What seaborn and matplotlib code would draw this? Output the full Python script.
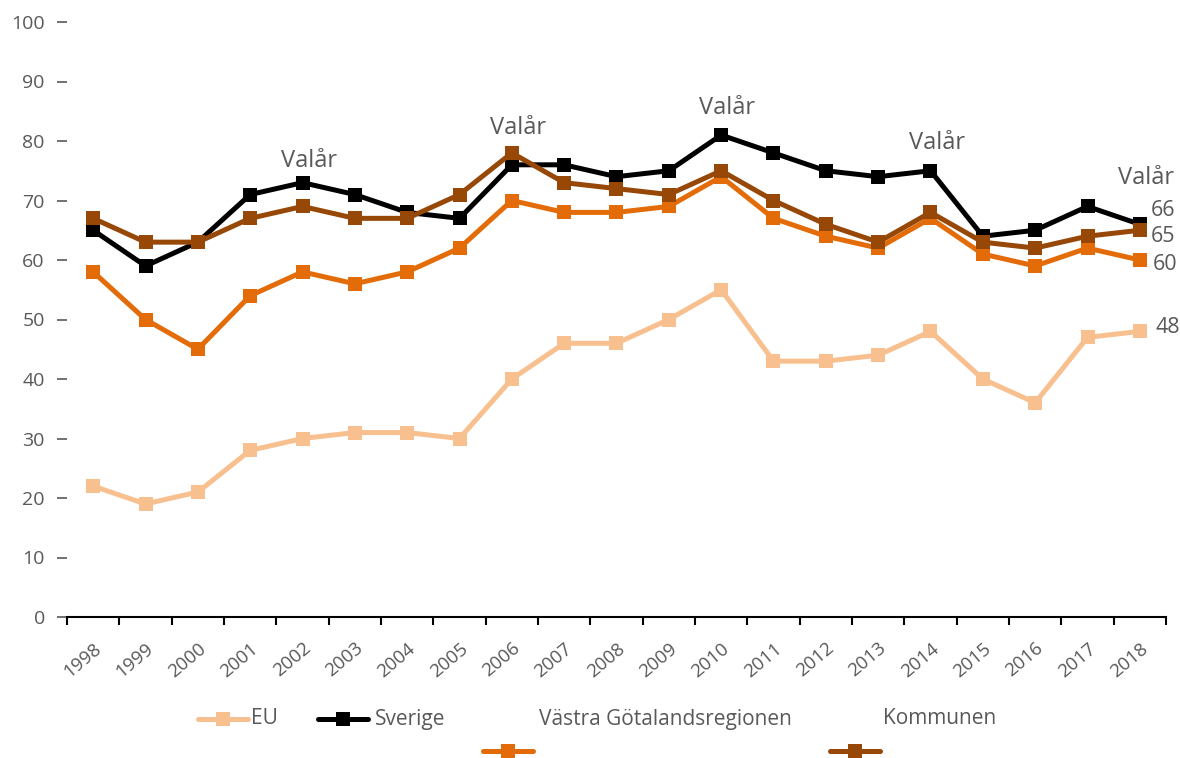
import matplotlib
matplotlib.use("Agg")
import matplotlib.pyplot as plt
from matplotlib.lines import Line2D
import seaborn as sns
import pandas as pd

years = [str(y) for y in range(1998, 2019)]
eu = [22, 19, 21, 28, 30, 31, 31, 30, 40, 46, 46, 50, 55, 43, 43, 44, 48, 40, 36, 47, 48]
sverige = [65, 59, 63, 71, 73, 71, 68, 67, 76, 76, 74, 75, 81, 78, 75, 74, 75, 64, 65, 69, 66]
vgr = [58, 50, 45, 54, 58, 56, 58, 62, 70, 68, 68, 69, 74, 67, 64, 62, 67, 61, 59, 62, 60]
kommunen = [67, 63, 63, 67, 69, 67, 67, 71, 78, 73, 72, 71, 75, 70, 66, 63, 68, 63, 62, 64, 65]
series_names = ["EU", "Sverige", "Västra Götalandsregionen", "Kommunen"]
colors = ["#F9C08F", "#000000", "#E36C09", "#974706"]
valar_years = ["2002", "2006", "2010", "2014", "2018"]
valar_y = [76.6, 82.2, 85.5, 79.7, 73.8]
y_ticks = list(range(0, 101, 10))

sns.set_theme(style="white")
plt.rcParams["font.family"] = ["Open Sans", "DejaVu Sans"]

gray = "#595959"
rows = []
for name, vals in zip(series_names, [eu, sverige, vgr, kommunen]):
    for y, v in zip(years, vals):
        rows.append({"year": y, "value": v, "series": name})
df = pd.DataFrame(rows)
df["x"] = df["year"].map({y: i for i, y in enumerate(years)})

fig = plt.figure(figsize=(11.8, 7.58), dpi=100)
ax = fig.add_axes([67 / 1180, 141 / 758, 1099 / 1180, 595 / 758])

palette = dict(zip(series_names, colors))
sns.lineplot(data=df, x="x", y="value", hue="series", hue_order=series_names,
             palette=palette, style="series", markers={n: "s" for n in series_names},
             dashes=False, linewidth=3.6, markersize=9.5, markeredgewidth=0,
             sort=False, legend=False, ax=ax)

ax.set_xlim(-0.5, len(years) - 0.5)
ax.set_ylim(0, 100)
ax.set_xlabel("")
ax.set_ylabel("")

ax.set_xticks(range(len(years)))
ax.set_xticklabels(years, rotation=40, ha="right", rotation_mode="anchor",
                   color=gray, fontsize=13.5)
ax.set_xticks([i - 0.5 for i in range(len(years) + 1)], minor=True)
ax.tick_params(axis="x", which="major", length=0, pad=16)
ax.tick_params(axis="x", which="minor", length=6, width=1.5, color="black", direction="out", bottom=True)

ax.set_yticks(y_ticks)
ax.set_yticklabels([str(t) for t in y_ticks], color=gray, fontsize=14)
ax.tick_params(axis="y", length=7, width=1.2, color=gray, direction="out", left=True, pad=9)

for s in ["top", "right", "left"]:
    ax.spines[s].set_visible(False)
ax.spines["bottom"].set_color("black")
ax.spines["bottom"].set_linewidth(1.5)

for yr, yv in zip(valar_years, valar_y):
    ax.text(years.index(yr) + 0.12, yv, "Valår", ha="center", va="center",
            fontsize=17, color=gray)

last = len(years) - 1
end_vals = [sverige[-1], kommunen[-1], vgr[-1], eu[-1]]
end_y = [68.4, 63.9, 59.3, 48.6]
end_dx = [0.2, 0.2, 0.25, 0.3]
for v, yy, dx in zip(end_vals, end_y, end_dx):
    ax.text(last + dx, yy, str(v), ha="left", va="center", fontsize=15.5, color=gray,
            clip_on=False)

# Legend (Excel-like layout)
def fx(px):
    return px / 1180

def fy(py):
    return 1 - py / 758

def handle(cx, cy, color):
    fig.add_artist(Line2D([fx(cx - 25), fx(cx + 25)], [fy(cy), fy(cy)], color=color,
                          linewidth=3.6, marker=None, transform=fig.transFigure))
    fig.add_artist(Line2D([fx(cx)], [fy(cy)], color=color, marker="s", markersize=9.5,
                          markeredgewidth=0, linestyle="none", transform=fig.transFigure))

handle(223, 719, colors[0])
fig.text(fx(251), fy(719), "EU", ha="left", va="center", fontsize=15, color=gray)
handle(343, 719, colors[1])
fig.text(fx(375), fy(719), "Sverige", ha="left", va="center", fontsize=15, color=gray)
fig.text(fx(539), fy(719), "Västra Götalandsregionen", ha="left", va="center", fontsize=15, color=gray)
fig.text(fx(883), fy(719), "Kommunen", ha="left", va="center", fontsize=15, color=gray)
handle(508, 751, colors[2])
handle(855, 751, colors[3])

fig.savefig("out.png", dpi=100)
